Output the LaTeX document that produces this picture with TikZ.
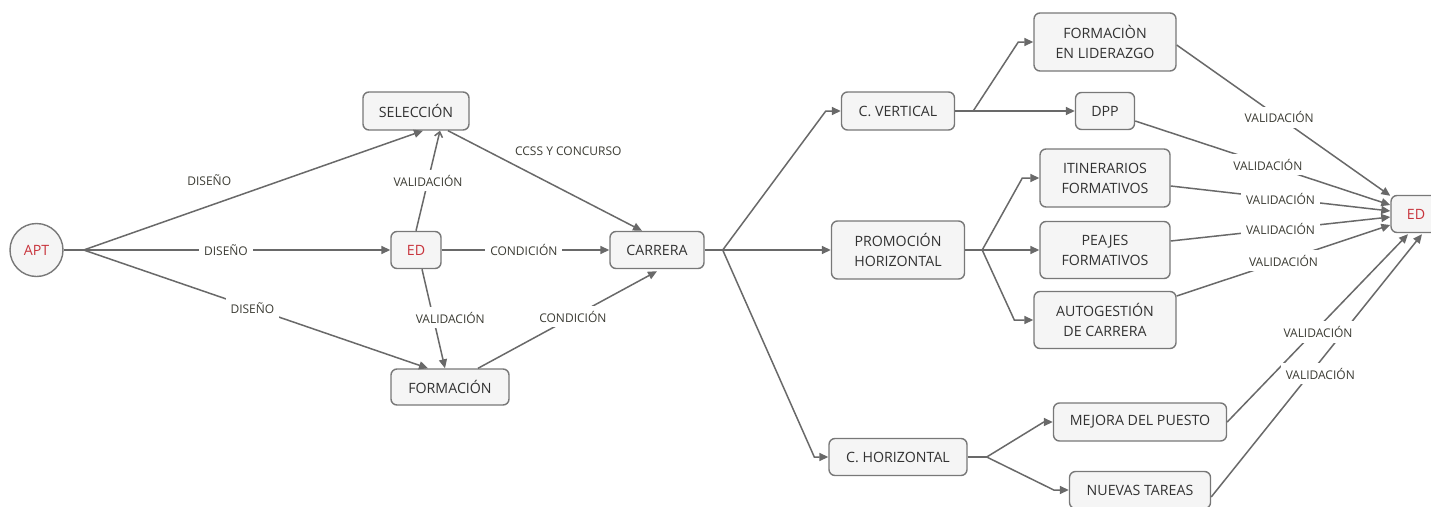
\documentclass[tikz,border=0pt]{standalone}
\usepackage{fontspec}
\setmainfont{Open Sans}
\usetikzlibrary{arrows.meta,calc}

\definecolor{edgegray}{RGB}{105,105,105}
\definecolor{framegray}{RGB}{120,120,120}
\definecolor{boxfill}{RGB}{245,245,245}
\definecolor{boxtext}{RGB}{50,50,50}
\definecolor{lbltext}{RGB}{60,60,52}
\definecolor{edred}{RGB}{200,52,60}

\newcommand\bxfont{\fontsize{14.2}{20}\selectfont}
\newcommand\lbfont{\fontsize{12}{13}\selectfont}

\begin{document}
\begin{tikzpicture}[x=1pt,y=-1pt,
  box/.style={draw=framegray, line width=1.4pt, rounded corners=6pt,
    fill=boxfill, text=boxtext, font=\bxfont, align=center, inner sep=0pt},
  sz/.style 2 args={minimum width=#1pt, minimum height=#2pt},
  redtext/.style={text=edred},
  conn/.style={draw=edgegray, line width=1.5pt,
    -{Triangle[length=9pt,width=8pt]}},
  plain/.style={draw=edgegray, line width=1.5pt},
  lbl/.style={fill=white, text=lbltext, font=\lbfont,
    inner xsep=5pt, inner ysep=5pt}]

\useasboundingbox (0,0) rectangle (1431,506);
\fill[white] (0,0) rectangle (1431,506);

% ---------- nodes ----------
\node[box, circle, minimum size=53pt, redtext] (apt) at (36.5,250) {APT};
\node[box, sz={106}{38}] (sel) at (416,111) {SELECCIÓN};
\node[box, sz={50}{37}, redtext] (edl) at (416,250) {ED};
\node[box, sz={118}{36}] (form) at (450,387) {FORMACIÓN};
\node[box, sz={94}{37}] (carr) at (657,250) {CARRERA};

\node[box, sz={113}{38}] (cver) at (898,111) {C. VERTICAL};
\node[box, sz={133}{58}] (prom) at (898,250) {PROMOCIÓN\\HORIZONTAL};
\node[box, sz={138}{37}] (chor) at (898,457) {C. HORIZONTAL};

\node[box, sz={142}{58}] (lid) at (1105,42) {FORMACIÒN\\EN LIDERAZGO};
\node[box, sz={59}{37}] (dpp) at (1105,111) {DPP};
\node[box, sz={130}{58}] (itin) at (1105,178) {ITINERARIOS\\FORMATIVOS};
\node[box, sz={130}{57}] (peaj) at (1105,250) {PEAJES\\FORMATIVOS};
\node[box, sz={142}{57}] (auto) at (1105,320) {AUTOGESTIÓN\\DE CARRERA};
\node[box, sz={173}{38}] (mej) at (1140,422) {MEJORA DEL PUESTO};
\node[box, sz={141}{37}] (nuev) at (1140,490) {NUEVAS TAREAS};

\node[box, sz={50}{37}, redtext] (edr) at (1416,214) {ED};

% ---------- branch points ----------
\coordinate (b1) at ([xshift=20pt]apt.east);
\coordinate (b2) at ([xshift=18pt]carr.east);
\coordinate (b3) at ([xshift=17pt]prom.east);
\coordinate (b4) at ([xshift=19pt]chor.east);

% ---------- connectors, left part ----------
\draw[plain] (apt.east) -- (b1);
\draw[conn] (b1) -- coordinate[pos=0.37] (d1) ([xshift=7pt]sel.south);
\draw[conn] (b1) -- coordinate[pos=0.464] (d2) (edl.west);
\draw[conn] (b1) -- coordinate[pos=0.49] (d3) ([xshift=-22pt]form.north);
\draw[plain, -{Straight Barb[length=5pt,width=8pt]}]
  (edl.north) -- coordinate[pos=0.5] (v1) ([xshift=24pt]sel.south);
\draw[conn] ([xshift=6pt]edl.south) -- coordinate[pos=0.49] (v2)
  ([xshift=-5pt]form.north);
\draw[conn] (edl.east) -- coordinate[pos=0.49] (c1) (carr.west);
\draw[conn] ([xshift=32pt]sel.south) -- coordinate[pos=0.62] (c2)
  ([xshift=-15pt]carr.north);
\draw[conn] ([xshift=28pt]form.north) -- coordinate[pos=0.53] (c3)
  ([yshift=-2pt]carr.south);

% ---------- connectors, career branches ----------
\draw[plain] (carr.east) -- (b2);
\draw[conn] (b2) -- ([xshift=-15pt]cver.west) -- (cver.west);
\draw[conn] (b2) -- (prom.west);
\draw[conn] (b2) -- ([xshift=-14pt]chor.west) -- (chor.west);

\draw[conn] (cver.east) -- ++(18,0) -- ([xshift=-15pt]lid.west) -- (lid.west);
\draw[conn] (cver.east) -- (dpp.west);

\draw[plain] (prom.east) -- (b3);
\draw[conn] (b3) -- ([xshift=-17pt]itin.west) -- (itin.west);
\draw[conn] (b3) -- (peaj.west);
\draw[conn] (b3) -- ([xshift=-19pt]auto.west) -- (auto.west);

\draw[plain] (chor.east) -- (b4);
\draw[conn] (b4) -- ([xshift=-9pt]mej.west) -- (mej.west);
\draw[conn] (b4) -- ([xshift=-15pt]nuev.west) -- (nuev.west);

% ---------- validation connectors into ED ----------
\draw[conn] ([yshift=-3pt]lid.east) -- coordinate[pos=0.48] (r1)
  ([yshift=-1pt]edr.north west);
\draw[conn] ([yshift=-10pt]dpp.east) -- coordinate[pos=0.52] (r2)
  ([yshift=9pt]edr.west);
\draw[conn] ([yshift=-8pt]itin.east) -- coordinate[pos=0.5] (r3)
  ([yshift=3pt]edr.west);
\draw[conn] ([yshift=9pt]peaj.east) -- coordinate[pos=0.5] (r4)
  ([yshift=-3pt]edr.west);
\draw[conn] ([yshift=24pt]auto.east) -- coordinate[pos=0.5] (r5)
  ([yshift=-11pt]edr.west);
\draw[conn] (mej.east) -- coordinate[pos=0.48] (r6)
  ([xshift=-8pt,yshift=-1pt]edr.south);
\draw[conn] ([yshift=-7pt]nuev.east) -- coordinate[pos=0.47] (r7)
  ([xshift=6pt,yshift=-1pt]edr.south);

% ---------- connector labels ----------
\node[lbl] at ([yshift=26pt]d1) {DISEÑO};
\node[lbl] at (d2) {DISEÑO};
\node[lbl] at (d3) {DISEÑO};
\node[lbl] at (v1) {VALIDACIÓN};
\node[lbl] at ([xshift=17pt]v2) {VALIDACIÓN};
\node[lbl] at (c1) {CONDICIÓN};
\node[lbl] at ([yshift=42pt]c2) {CCSS Y CONCURSO};
\node[lbl] at (c3) {CONDICIÓN};

\node[lbl] at (r1) {VALIDACIÓN};
\node[lbl] at (r2) {VALIDACIÓN};
\node[lbl] at (r3) {VALIDACIÓN};
\node[lbl] at (r4) {VALIDACIÓN};
\node[lbl] at (r5) {VALIDACIÓN};
\node[lbl] at ([xshift=4pt]r6) {VALIDACIÓN};
\node[lbl] at ([xshift=10pt]r7) {VALIDACIÓN};

\end{tikzpicture}
\end{document}
